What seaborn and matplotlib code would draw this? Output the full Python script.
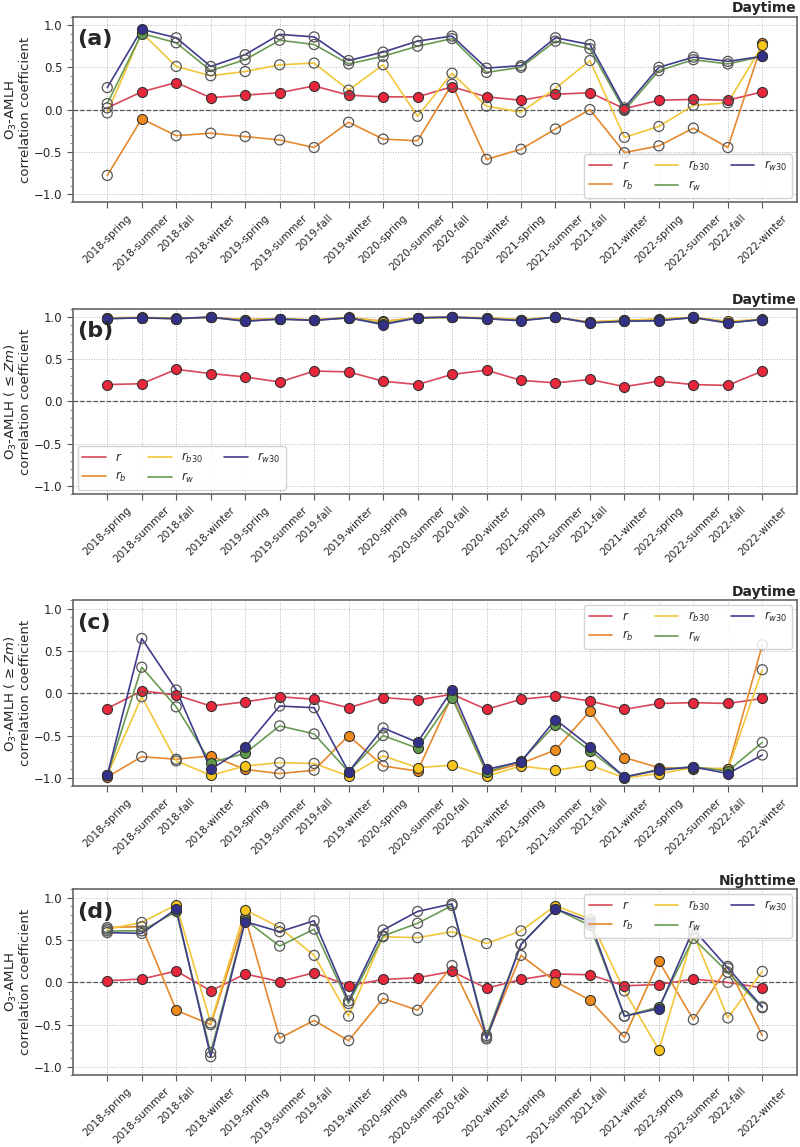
import matplotlib
matplotlib.use("Agg")
import matplotlib.pyplot as plt
from matplotlib.ticker import MultipleLocator, AutoMinorLocator
import seaborn as sns

seasons = [f"{y}-{s}" for y in range(2018, 2023) for s in ["spring", "summer", "fall", "winter"]]

series = ["r", "rb", "rb30", "rw", "rw30"]
labels = ["$r$", "$r_b$", "$r_{b30}$", "$r_w$", "$r_{w30}$"]
line_cols = ["#d9475a", "#e5892e", "#f2c63a", "#6b9a52", "#3f3d8c"]
fill_cols = ["#e8263c", "#f08a1c", "#f8c51c", "#5f9a4c", "#33318a"]

# panel (a) daytime
a_r = [0.02, 0.21, 0.32, 0.14, 0.17, 0.20, 0.28, 0.17, 0.15, 0.15, 0.27, 0.15, 0.11, 0.18, 0.20, 0.01, 0.11, 0.12, 0.11, 0.21]
a_rb = [-0.78, -0.11, -0.31, -0.28, -0.32, -0.36, -0.45, -0.15, -0.35, -0.37, 0.30, -0.59, -0.47, -0.23, 0.00, -0.51, -0.43, -0.22, -0.45, 0.79]
a_rb30 = [-0.04, 0.91, 0.51, 0.40, 0.45, 0.53, 0.55, 0.23, 0.53, -0.08, 0.43, 0.04, -0.03, 0.25, 0.58, -0.33, -0.20, 0.05, 0.08, 0.76]
a_rw = [0.07, 0.90, 0.79, 0.46, 0.59, 0.82, 0.77, 0.54, 0.63, 0.75, 0.84, 0.44, 0.50, 0.81, 0.72, -0.01, 0.46, 0.59, 0.54, 0.63]
a_rw30 = [0.26, 0.95, 0.85, 0.51, 0.65, 0.89, 0.86, 0.58, 0.68, 0.81, 0.87, 0.49, 0.52, 0.85, 0.77, 0.02, 0.50, 0.62, 0.57, 0.63]

# panel (b) daytime, <= Zm
b_r = [0.20, 0.21, 0.38, 0.33, 0.29, 0.23, 0.36, 0.35, 0.24, 0.20, 0.32, 0.37, 0.25, 0.22, 0.26, 0.175, 0.24, 0.20, 0.19, 0.36]
b_rb = [0.99, 0.995, 0.985, 0.995, 0.97, 0.98, 0.965, 0.995, 0.95, 0.99, 0.995, 0.99, 0.97, 0.995, 0.94, 0.96, 0.975, 0.995, 0.94, 0.975]
b_rb30 = [0.99, 0.99, 0.98, 0.995, 0.965, 0.98, 0.965, 0.99, 0.945, 0.99, 0.995, 0.99, 0.97, 0.995, 0.94, 0.965, 0.97, 0.995, 0.95, 0.97]
b_rw = [0.98, 0.99, 0.98, 0.995, 0.95, 0.975, 0.96, 0.99, 0.92, 0.99, 0.995, 0.98, 0.96, 0.995, 0.93, 0.95, 0.96, 0.99, 0.93, 0.97]
b_rw30 = [0.98, 0.99, 0.98, 1.00, 0.95, 0.975, 0.96, 0.99, 0.91, 0.99, 1.00, 0.98, 0.955, 1.00, 0.93, 0.95, 0.955, 0.995, 0.93, 0.97]

# panel (c) daytime, >= Zm
c_r = [-0.18, 0.03, -0.02, -0.15, -0.10, -0.04, -0.07, -0.17, -0.05, -0.08, -0.01, -0.19, -0.07, -0.03, -0.09, -0.19, -0.12, -0.11, -0.12, -0.06]
c_rb = [-0.99, -0.75, -0.78, -0.74, -0.90, -0.95, -0.91, -0.50, -0.86, -0.92, -0.03, -0.94, -0.83, -0.67, -0.21, -0.76, -0.88, -0.89, -0.89, 0.575]
c_rb30 = [-0.97, -0.04, -0.80, -0.97, -0.86, -0.82, -0.83, -0.98, -0.74, -0.88, -0.85, -0.98, -0.86, -0.91, -0.85, -1.00, -0.95, -0.88, -0.90, 0.28]
c_rw = [-0.97, 0.31, -0.16, -0.82, -0.71, -0.385, -0.48, -0.93, -0.50, -0.65, -0.055, -0.93, -0.80, -0.37, -0.68, -0.99, -0.90, -0.87, -0.92, -0.58]
c_rw30 = [-0.97, 0.65, 0.04, -0.90, -0.64, -0.15, -0.17, -0.93, -0.41, -0.58, 0.04, -0.90, -0.81, -0.31, -0.63, -0.99, -0.91, -0.87, -0.95, -0.73]

# panel (d) nighttime
d_r = [0.02, 0.04, 0.135, -0.10, 0.10, 0.01, 0.115, -0.04, 0.035, 0.055, 0.13, -0.07, 0.035, 0.10, 0.09, -0.04, -0.025, 0.04, 0.00, -0.065]
d_rb = [0.65, 0.66, -0.33, -0.50, 0.77, -0.66, -0.45, -0.69, -0.19, -0.33, 0.20, -0.65, 0.32, 0.01, -0.21, -0.65, 0.25, -0.44, 0.19, -0.63]
d_rb30 = [0.63, 0.71, 0.92, -0.48, 0.86, 0.65, 0.32, -0.40, 0.54, 0.53, 0.60, 0.46, 0.61, 0.91, 0.75, -0.10, -0.80, 0.575, -0.42, 0.13]
d_rw = [0.61, 0.61, 0.84, -0.83, 0.74, 0.43, 0.63, -0.25, 0.55, 0.70, 0.91, -0.63, 0.45, 0.87, 0.675, -0.40, -0.29, 0.52, 0.12, -0.30]
d_rw30 = [0.59, 0.58, 0.87, -0.88, 0.72, 0.60, 0.73, -0.22, 0.62, 0.84, 0.93, -0.67, 0.45, 0.87, 0.72, -0.40, -0.31, 0.63, 0.17, -0.29]

# indices of significant (filled) markers
all_idx = list(range(20))
a_sig = {"r": all_idx[1:], "rb": [1, 19], "rb30": [1, 19], "rw": [1, 19], "rw30": [1, 19]}
b_sig = {k: all_idx for k in series}
c_not = [1, 2, 5, 6, 8, 19]
c_sig = {"r": all_idx, **{k: [i for i in all_idx if i not in c_not] for k in series[1:]}}
d_sig = {"r": [i for i in all_idx if i != 18], **{k: [2, 4, 13, 14, 16] for k in series[1:]}}

panels = [
    ("(a)", "Daytime", "O$_3$-AMLH\ncorrelation coefficient",
     dict(zip(series, [a_r, a_rb, a_rb30, a_rw, a_rw30])), a_sig, "lower right"),
    ("(b)", "Daytime", "O$_3$-AMLH ( ≤ $Zm$)\ncorrelation coefficient",
     dict(zip(series, [b_r, b_rb, b_rb30, b_rw, b_rw30])), b_sig, "lower left"),
    ("(c)", "Daytime", "O$_3$-AMLH ( ≥ $Zm$)\ncorrelation coefficient",
     dict(zip(series, [c_r, c_rb, c_rb30, c_rw, c_rw30])), c_sig, "upper right"),
    ("(d)", "Nighttime", "O$_3$-AMLH\ncorrelation coefficient",
     dict(zip(series, [d_r, d_rb, d_rb30, d_rw, d_rw30])), d_sig, "upper right"),
]

sns.set_style("white")
plt.rcParams["font.family"] = ["DejaVu Sans"]

fig = plt.figure(figsize=(8, 11.47), dpi=100)
bottoms = [0.8235, 0.5690, 0.3145, 0.0625]

for (letter, tag, ylab, vals, sig, loc), bot in zip(panels, bottoms):
    ax = fig.add_axes([0.091, bot, 0.905, 0.162])
    for k, lab, lc, fc in zip(series, labels, line_cols, fill_cols):
        y = vals[k]
        sns.lineplot(x=seasons, y=y, sort=False, color=lc, lw=1.2, label=lab, ax=ax)
        on = sig[k]
        off = [i for i in range(len(y)) if i not in on]
        if on:
            sns.scatterplot(x=[seasons[i] for i in on], y=[y[i] for i in on], color=fc,
                            edgecolor="#333333", linewidth=0.8, s=52, zorder=3, legend=False, ax=ax)
        if off:
            sns.scatterplot(x=[seasons[i] for i in off], y=[y[i] for i in off], facecolors="none",
                            edgecolor="#555555", linewidth=0.9, s=52, zorder=3, legend=False, ax=ax)
    ax.axhline(0, ls="--", color="#555555", lw=0.9, zorder=1)
    ax.set_xlim(-1, 20)
    ax.set_ylim(-1.1, 1.1)
    ax.yaxis.set_major_locator(MultipleLocator(0.5))
    ax.yaxis.set_minor_locator(AutoMinorLocator(5))
    ax.grid(True, ls=":", lw=0.7, color="#b5b5b5")
    ax.tick_params(axis="both", which="major", direction="out", length=4, labelsize=8.5,
                   left=True, bottom=True, color="#555555")
    ax.tick_params(axis="y", which="minor", direction="out", length=2, left=True, color="#777777")
    plt.setp(ax.get_xticklabels(), rotation=45, ha="center", fontsize=7.6)
    for s in ax.spines.values():
        s.set_color("#666666")
        s.set_linewidth(1.2)
    ax.set_xlabel("")
    ax.set_ylabel(ylab, fontsize=9.5, linespacing=1.0, labelpad=1)
    ax.set_title(tag, loc="right", fontweight="bold", fontsize=10, pad=3)
    ax.text(0.006, 0.935, letter, transform=ax.transAxes, fontsize=16, fontweight="bold", va="top")
    ax.legend(loc=loc, ncol=3, fontsize=8.5, handlelength=2.0, handletextpad=0.8,
              columnspacing=1.8, framealpha=0.85, borderaxespad=0.4)

fig.savefig("out.png", dpi=100)
